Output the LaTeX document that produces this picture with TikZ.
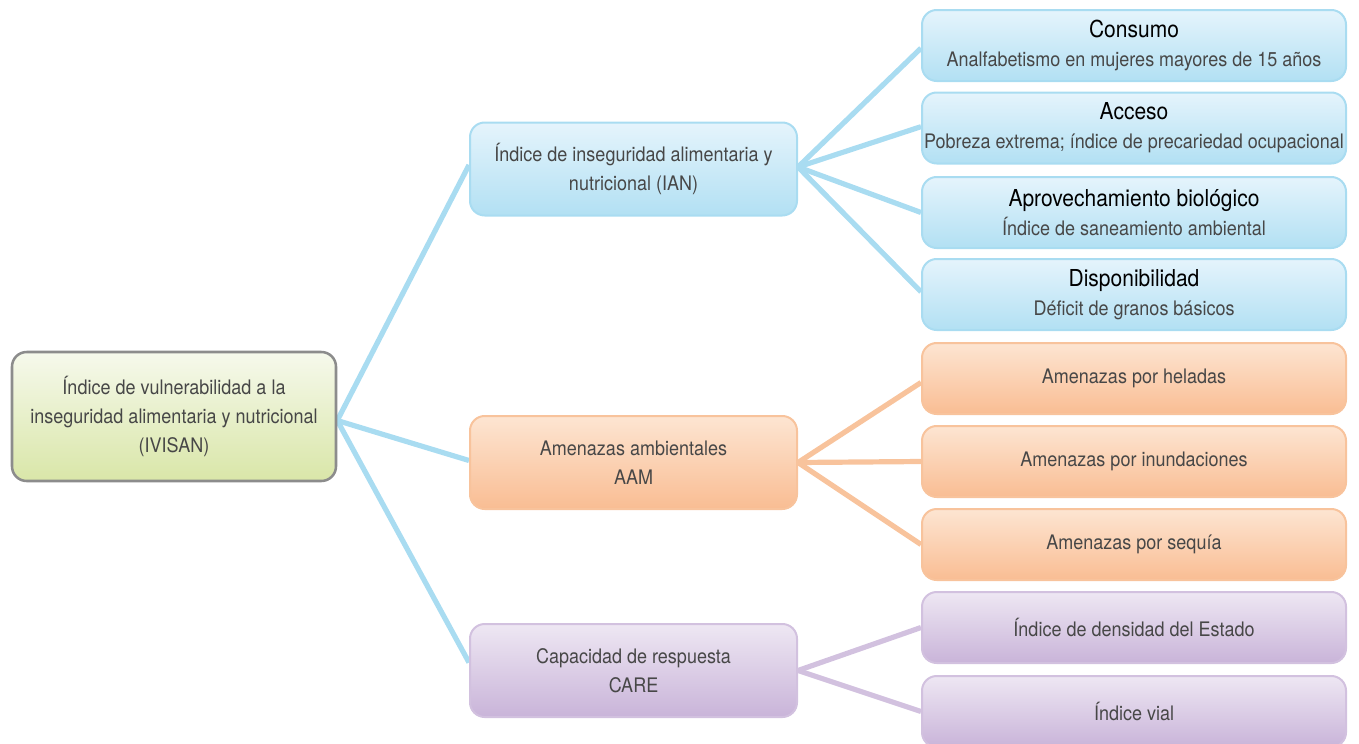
\documentclass[tikz,border=0pt]{standalone}
\usepackage{fontspec}
\setmainfont{TeX Gyre Heros}[FakeStretch=0.9]
\usetikzlibrary{backgrounds}
\definecolor{txt}{HTML}{474747}
\definecolor{rootT}{HTML}{F6F9EC}
\definecolor{rootB}{HTML}{D9E6A8}
\definecolor{rootD}{HTML}{8C8C8C}
\definecolor{bluT}{HTML}{E5F4FC}
\definecolor{bluB}{HTML}{B2E0F3}
\definecolor{bluD}{HTML}{A9DCF1}
\definecolor{oraT}{HTML}{FDE5D2}
\definecolor{oraB}{HTML}{F9BD93}
\definecolor{oraD}{HTML}{F8C39C}
\definecolor{purT}{HTML}{EEE7F3}
\definecolor{purB}{HTML}{C9B4D9}
\definecolor{purD}{HTML}{D2C1DF}
\tikzset{
  box/.style={rounded corners=11pt, inner sep=0pt, align=center, text=txt,
    font=\fontsize{15pt}{21.75pt}\selectfont, line width=1.5pt},
  rootbox/.style={box, draw=rootD, line width=1.9pt, top color=rootT, bottom color=rootB,
    minimum width=243pt, minimum height=96.75pt},
  midbox/.style={box, minimum width=245.25pt, minimum height=69.75pt},
  leafbox/.style={box, minimum width=318pt, minimum height=53.25pt},
  blu/.style={draw=bluD, top color=bluT, bottom color=bluB},
  ora/.style={draw=oraD, top color=oraT, bottom color=oraB},
  pur/.style={draw=purD, top color=purT, bottom color=purB},
  link/.style={line width=3.9pt},
  bluL/.style={link, draw=bluD},
  oraL/.style={link, draw=oraD},
  purL/.style={link, draw=purD},
}
\newcommand{\hd}[1]{{\fontsize{17.5pt}{21.75pt}\selectfont\color{black}#1}}
\begin{document}
\begin{tikzpicture}[x=0.75pt,y=-0.75pt]
\useasboundingbox (0,0) rectangle (1359,743);
\node[rootbox] (root) at (174,416.5) {Índice de vulnerabilidad a la\\inseguridad alimentaria y nutricional\\(IVISAN)};
\node[midbox,blu] (ian) at (633.5,169) {Índice de inseguridad alimentaria y\\nutricional (IAN)};
\node[midbox,ora] (aam) at (633.5,462.5) {Amenazas ambientales\\AAM};
\node[midbox,pur] (care) at (633.5,670.5) {Capacidad de respuesta\\CARE};
\node[leafbox,blu] (cons) at (1134,45.5) {\hd{Consumo}\\Analfabetismo en mujeres mayores de 15 años};
\node[leafbox,blu] (acc) at (1134,128) {\hd{Acceso}\\Pobreza extrema; índice de precariedad ocupacional};
\node[leafbox,blu] (apr) at (1134,212.5) {\hd{Aprovechamiento biológico}\\Índice de saneamiento ambiental};
\node[leafbox,blu] (disp) at (1134,294.5) {\hd{Disponibilidad}\\Déficit de granos básicos};
\node[leafbox,ora] (hel) at (1134,378.5) {Amenazas por heladas};
\node[leafbox,ora] (inu) at (1134,461.5) {Amenazas por inundaciones};
\node[leafbox,ora] (seq) at (1134,544.5) {Amenazas por sequía};
\node[leafbox,pur] (den) at (1134,627.5) {Índice de densidad del Estado};
\node[leafbox,pur] (vial) at (1134,711.5) {Índice vial};
\begin{scope}[on background layer]
\draw[bluL] ([yshift=-3pt]root.east) -- ([yshift=3pt]ian.west);
\draw[bluL] ([yshift=-3pt]root.east) -- ([yshift=1.5pt]aam.west);
\draw[bluL] ([yshift=-3pt]root.east) -- ([yshift=6pt]care.west);
\draw[bluL] ([yshift=1.5pt]ian.east) -- ([yshift=-2pt]cons.west);
\draw[bluL] ([yshift=1.5pt]ian.east) -- ([yshift=1pt]acc.west);
\draw[bluL] ([yshift=1.5pt]ian.east) -- (apr.west);
\draw[bluL] ([yshift=1.5pt]ian.east) -- ([yshift=2pt]disp.west);
\draw[oraL] (aam.east) -- ([yshift=-3pt]hel.west);
\draw[oraL] (aam.east) -- (inu.west);
\draw[oraL] (aam.east) -- (seq.west);
\draw[purL] (care.east) -- (den.west);
\draw[purL] (care.east) -- (vial.west);
\end{scope}
\end{tikzpicture}
\end{document}
